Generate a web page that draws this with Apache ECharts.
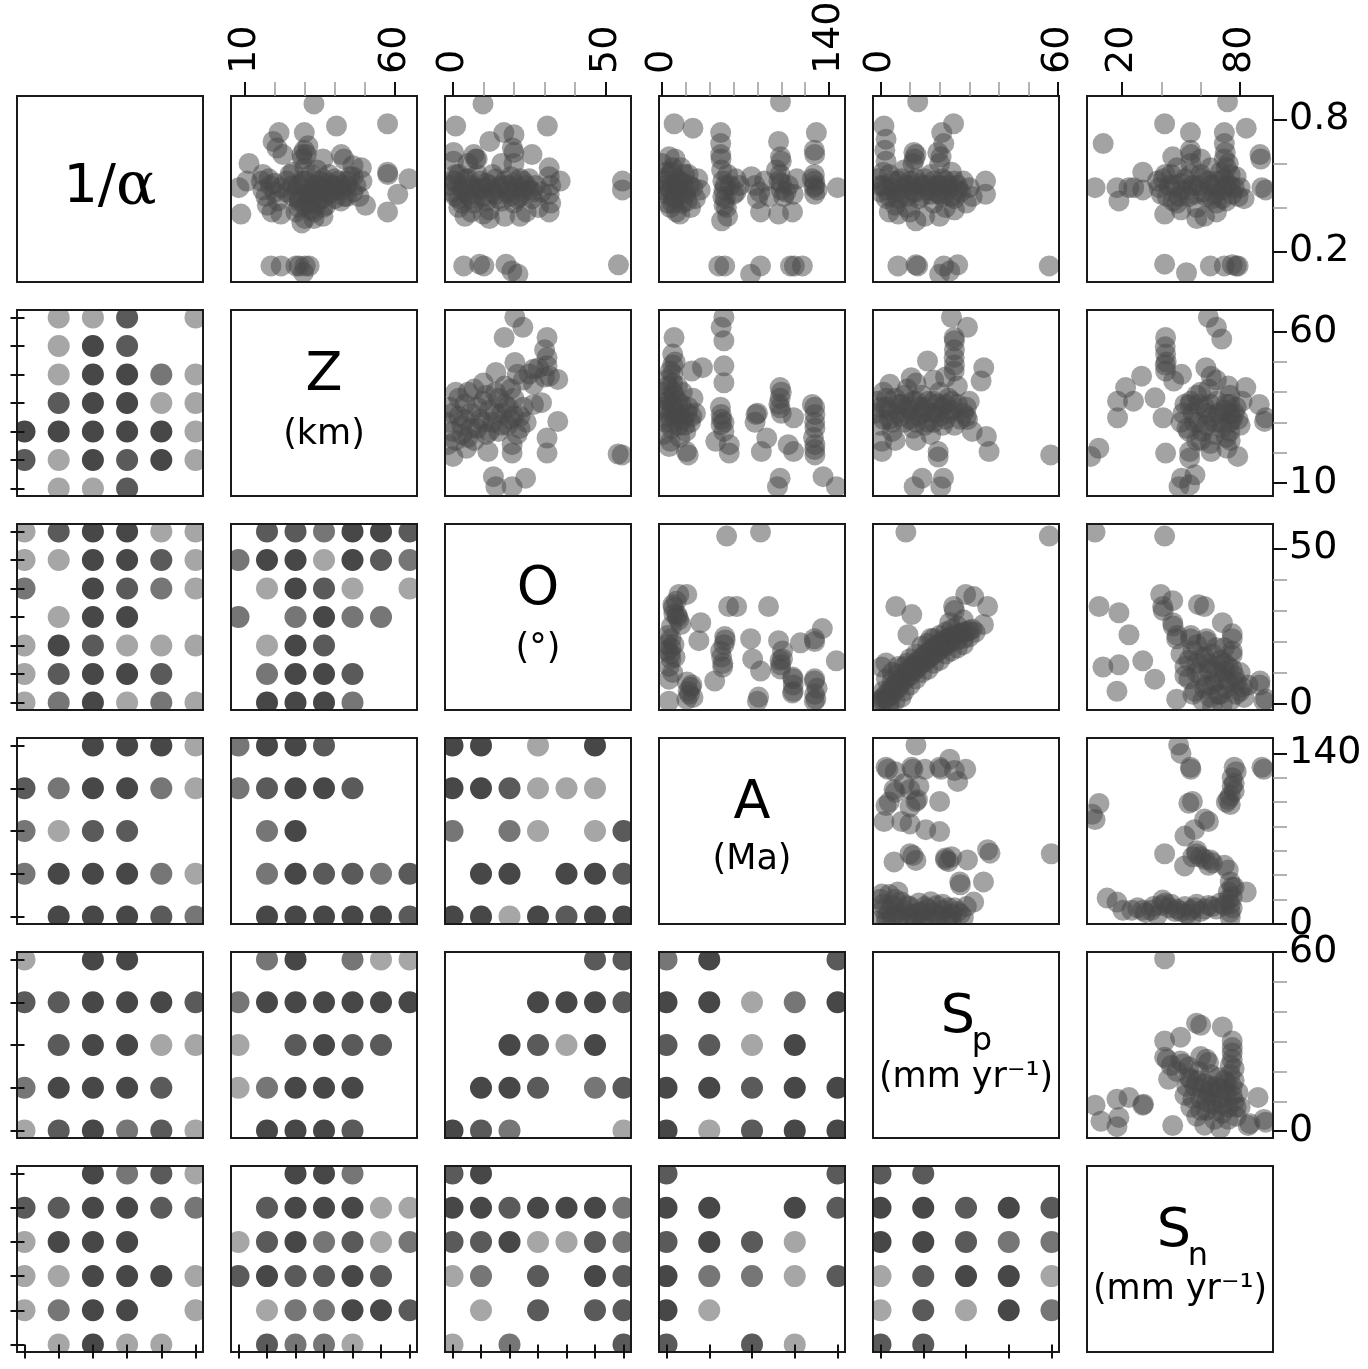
<!DOCTYPE html>
<html>
<head>
<meta charset="utf-8">
<script src="https://cdn.jsdelivr.net/npm/echarts@6/dist/echarts.min.js"></script>
<style>
  html, body { margin: 0; padding: 0; background: #fff; }
  #chart { width: 1368px; height: 1369px; }
</style>
</head>
<body>
<div id="chart"></div>
<script>
// matrix order: 1/alpha, Z, O, A, Sp, Sn
const varNames = ['inv', 'Z', 'O', 'A', 'Sp', 'Sn'];
const binCounts = [6, 7, 7, 5, 5, 6];

// tick values (major ones get labels)
const invMajor = [0.2, 0.8], invMinor = [0.4, 0.6];
const zMajor = [10, 60], zMinor = [20, 30, 40, 50];
const oMajor = [0, 50], oMinor = [10, 20, 30, 40];
const aMajor = [0, 140], aMinor = [20, 40, 60, 80, 100, 120];
const spMajor = [0, 60], spMinor = [10, 20, 30, 40, 50];
const snMajor = [20, 80], snMinor = [40, 60];

// upper triangle scatter data: [x, y]
const zInv = [[33,0.87],[40.5,0.77],[57.5,0.78],[21.4,0.74],[19.4,0.70],[20.7,0.67],[22.7,0.64],[29.8,0.74],[29.8,0.66],[30.5,0.64],[29.2,0.62],
  [11.4,0.60],[10.7,0.52],[8,0.49],[8.7,0.37],[57.5,0.56],[57.6,0.55],[64.6,0.53],[60.9,0.46],[57.5,0.38],[50.2,0.41],[42.1,0.64],[43,0.62],[48.8,0.58],[46,0.59],[36,0.62],
  [15.5,0.52],[16,0.48],[17,0.45],[18.5,0.5],[20,0.47],[21,0.43],[17.5,0.41],[19,0.38],[22,0.37],
  [25,0.55],[26,0.5],[27,0.47],[28,0.44],[29,0.52],[30,0.49],[31,0.46],[31,0.42],[32,0.55],[33,0.5],[33,0.38],[34,0.47],[35,0.52],[35,0.44],[36,0.49],[37,0.41],
  [38,0.55],[38,0.47],[39,0.5],[40,0.44],[41,0.52],[42,0.48],[43,0.45],[44,0.5],[45,0.54],[46,0.47],[47,0.5],[48,0.45],[49,0.52],[27,0.38],[30,0.35],[29,0.33],[33,0.35],[36,0.36],
  [16,0.55],[18,0.53],[20,0.51],[22,0.49],[24,0.47],[26,0.45],[28,0.43],[30,0.41],[32,0.39],[34,0.42],[36,0.44],[38,0.46],[40,0.48],[42,0.5],[44,0.52],[46,0.54],
  [24,0.52],[26,0.56],[28,0.5],[30,0.52],[32,0.47],[34,0.5],[36,0.53],[38,0.51],[40,0.53],[42,0.43],[44,0.45],[28,0.4],[32,0.44],[36,0.4],[30,0.58],[34,0.57],[29,0.64],[31,0.68],
  [18.7,0.135],[22.1,0.135],[27,0.135],[28.1,0.135],[30.1,0.135],[31.4,0.135],[29.5,0.105]];
const oInv = [[9.9,0.87],[1,0.77],[30.9,0.77],[0.3,0.65],[0.3,0.61],[1,0.55],[6.9,0.64],[7.5,0.62],[12.1,0.70],[16.7,0.74],[20,0.73],[20,0.65],[19.5,0.67],[25.9,0.64],
  [31.5,0.58],[31.5,0.54],[32,0.5],[31.5,0.46],[32,0.42],[31.5,0.38],[35.1,0.52],[55.4,0.52],[55.4,0.48],[54.1,0.14],
  [-1,0.5],[0,0.47],[1,0.52],[2,0.44],[3,0.49],[4,0.53],[5,0.46],[6,0.5],[7,0.42],[8,0.55],[9,0.48],[10,0.45],[11,0.51],[12,0.39],[13,0.47],[14,0.53],[15,0.44],
  [16,0.5],[17,0.36],[18,0.47],[19,0.54],[20,0.42],[21,0.49],[22,0.45],[23,0.52],[24,0.38],[25,0.48],[26,0.44],[27,0.5],[28,0.4],[12,0.35],[2,0.4],[6,0.38],[22,0.36],[29,0.47],
  [0,0.52],[1,0.45],[2,0.55],[3,0.42],[4,0.47],[5,0.53],[6,0.44],[7,0.49],[8,0.46],[9,0.52],[10,0.49],[11,0.43],[12,0.5],[13,0.55],[14,0.46],[15,0.49],[16,0.43],
  [17,0.52],[18,0.5],[19,0.45],[20,0.51],[21,0.44],[22,0.53],[23,0.47],[24,0.5],[25,0.53],[26,0.47],[5,0.6],[8,0.62],[16,0.6],[20,0.6],[4,0.36],[10,0.37],
  [3.6,0.135],[8.8,0.143],[10.2,0.135],[17.4,0.143],[19.3,0.112],[21.3,0.097]];
const aInv = [[99.3,0.88],[10.2,0.78],[25.9,0.76],[49.2,0.74],[49.2,0.69],[49.2,0.64],[49.5,0.62],[97.7,0.70],[99.3,0.63],[100,0.61],[129.4,0.74],[127.7,0.66],[128,0.64],
  [127.7,0.55],[128,0.52],[127.5,0.49],[128,0.46],[147.1,0.49],
  [0,0.6],[2,0.52],[4,0.46],[6,0.63],[8,0.56],[9,0.5],[10,0.44],[11,0.62],[12,0.38],[13,0.53],[14,0.48],[16,0.58],[17,0.42],[18,0.51],[20,0.46],[22,0.55],[24,0.4],
  [26,0.49],[28,0.44],[30,0.53],[32,0.48],[7,0.4],[15,0.37],[3,0.56],
  [1,0.48],[3,0.5],[5,0.54],[7,0.48],[9,0.58],[11,0.45],[13,0.5],[15,0.52],[17,0.47],[19,0.55],[21,0.43],[23,0.5],[5,0.42],[9,0.42],
  [50,0.57],[51,0.52],[52,0.48],[53,0.44],[54,0.4],[55,0.36],[57,0.5],[60,0.46],[62,0.53],[50,0.34],[51,0.45],[53,0.5],[55,0.55],[52,0.41],[62,0.47],[65,0.5],
  [75,0.54],[78,0.5],[82,0.47],[86,0.52],[90,0.45],[80,0.44],
  [96,0.57],[98,0.52],[100,0.48],[102,0.45],[106,0.5],[110,0.46],[113,0.53],[99,0.55],[100,0.51],[104,0.47],
  [128,0.5],[126,0.53],[130,0.48],
  [82.6,0.38],[97.7,0.37],[109.4,0.38],
  [47.6,0.135],[52.6,0.135],[74.3,0.097],[82.6,0.135],[107.7,0.135],[111,0.135],[117.7,0.135]];
const spInv = [[12.6,0.88],[1.2,0.77],[1.9,0.71],[1.5,0.66],[1.9,0.61],[24.7,0.78],[20.7,0.74],[21.4,0.69],[19.4,0.65],[20.5,0.63],[11.3,0.65],[11.5,0.62],[35.5,0.52],[35.5,0.46],[57,0.135],
  [-1,0.53],[0,0.47],[1,0.5],[2,0.44],[3,0.55],[4,0.49],[5,0.41],[6,0.52],[7,0.46],[8,0.57],[9,0.5],[10,0.38],[11,0.47],[12,0.53],[13,0.44],[14,0.5],[15,0.36],
  [16,0.48],[17,0.55],[18,0.42],[19,0.5],[20,0.46],[21,0.53],[22,0.4],[23,0.48],[24,0.56],[25,0.44],[26,0.5],[27,0.47],[28,0.52],[29,0.42],[30,0.49],[31,0.45],
  [0,0.5],[1,0.56],[2,0.48],[3,0.45],[4,0.52],[5,0.47],[6,0.44],[7,0.53],[8,0.49],[9,0.45],[10,0.52],[11,0.5],[12,0.47],[13,0.51],[14,0.45],[15,0.53],[16,0.5],
  [17,0.46],[18,0.52],[19,0.47],[20,0.5],[21,0.45],[22,0.52],[23,0.5],[24,0.45],[25,0.52],[26,0.48],[11,0.6],[12,0.64],[20,0.6],[3,0.38],[9,0.4],[25,0.39],
  [12,0.34],[6,0.37],[20,0.36],
  [5.9,0.135],[12,0.14],[12.6,0.135],[21.4,0.135],[23.4,0.112],[20,0.097],[26.1,0.14]];
const snInv = [[10.5,0.69],[73.6,0.88],[41.7,0.78],[54.8,0.74],[72,0.74],[83.1,0.76],[54.8,0.66],[55,0.64],[45.8,0.63],[72,0.69],[72.5,0.65],[90.1,0.64],[90.5,0.62],
  [6.4,0.49],[17.5,0.49],[18.5,0.43],[23.6,0.49],[30.6,0.56],[30.6,0.48],[26,0.49],
  [38,0.52],[40,0.46],[42,0.55],[44,0.5],[46,0.43],[48,0.58],[50,0.48],[52,0.53],[54,0.45],[56,0.5],[58,0.4],[60,0.55],[61,0.47],[62,0.36],[64,0.52],[66,0.44],
  [67,0.5],[68,0.38],[70,0.56],[71,0.48],[72,0.53],[73,0.43],[74,0.6],[75,0.5],[76,0.46],[78,0.54],[80,0.49],[82,0.44],[58,0.35],[48,0.42],[65,0.58],
  [39,0.49],[41,0.53],[43,0.45],[45,0.55],[47,0.5],[49,0.45],[51,0.51],[53,0.48],[55,0.55],[57,0.46],[59,0.5],[61,0.53],[63,0.45],[65,0.5],[67,0.46],
  [69,0.52],[71,0.44],[73,0.5],[75,0.55],[77,0.49],[79,0.45],[55,0.6],[60,0.62],[72,0.62],[73,0.58],[50,0.39],[68,0.42],
  [91.1,0.49],[93,0.48],[41.7,0.37],
  [41.7,0.143],[52.8,0.104],[64.9,0.135],[72,0.135],[76,0.14],[78,0.135],[79,0.135]];
const oZ = [[20.3,64.8],[22.9,61.5],[16.8,58.1],[30.8,58.1],[30.8,51.5],[30.8,48.7],[20.3,49.8],[14.1,46.5],[21.1,45.9],[26.4,47.6],[31.6,45.3],[34.3,44.2],[26.4,42.6],
  [26.4,35.9],[29,36.5],[34.3,30.3],[30.8,24.8],[30.8,19.8],[19.4,22.6],[19.4,19.8],[11.5,20.3],[4.5,21.4],[0.1,18.7],[-1.6,22.6],[55.3,19.2],[54,19.5],
  [13.3,12],[14.1,8.7],[19.4,8.7],[23.8,11.5],
  [-2,30],[-1,35],[0,27],[1,40],[2,32],[3,29],[4,36],[5,25],[6,33],[7,41],[8,28],[9,31],[10,37],[11,26],[12,34],[13,30],[14,40],[15,27],[16,33],[17,36],
  [18,29],[19,31],[20,38],[21,26],[22,32],[23,35],[10,43],[5,40],[17,42],[1,24],[24,30],
  [0,33],[2,38],[4,31],[6,28],[8,35],[10,30],[12,27],[14,33],[16,29],[18,35],[20,32],[22,28],[3,26],[7,24],[11,39],[15,38],[19,41],[23,44],[25,46],[28,48],[30,54],[30,45]];
const aZ = [[10.1,58.1],[51.9,64.8],[49.6,61.5],[51.9,57],[51.9,48.7],[51.9,43.1],
  [9,52.6],[9,49],[9,46],[9,43],[9.5,40],[9,36],[25,47],[33.9,48.1],
  [7,23.7],[20.5,20.3],[22,19.2],[49.6,32.6],[49.6,29.2],[50,31],[56.4,22.6],[56.4,19.8],[78.8,32.6],[80,33],[99,41.5],[100,40],[99,34.8],[98,36],
  [110.3,31.5],[126,35.9],[128.2,32.6],[128.2,28.1],[128,30],[128.2,22.6],[128.2,19.2],[128,21],
  [83.3,20.3],[87.8,24.8],[105.8,22.6],[110.3,20.3],[99,11.5],[96.8,8.7],[135,12],[146.2,8.7],[45.1,23.7],[51.9,27],
  [0,40],[2,34],[3,30],[4,44],[5,37],[6,32],[8,28],[10,39],[12,33],[13,42],[14,29],[16,36],[18,31],[20,27],[22,35],[24,30],[26,38],[28,33],[1,26],[15,25],[6,22],
  [1,35],[3,38],[5,42],[7,30],[9,34],[11,31],[13,37],[15,33],[17,40],[19,29],[21,33],[25,32],[7,47],[11,50],[49,35],[52,30],[78,30],[99,38],[127,25],[128,35],[100,33]];
const spZ = [[24,64.8],[29.4,61.5],[24.9,58.1],[25,57],[24.9,51.5],[24.9,47],[25,49],[15.9,50.3],[34.9,48.1],[34,43.7],[10.4,44.8],[3.2,42.6],[29.4,30.9],[29,32],
  [19.5,20.3],[19.5,18.5],[35.8,25.3],[36.7,20.3],[57.5,19.2],[0.5,23.7],[0.5,20.3],[14.1,11.5],[11.4,8.7],[21.3,11.5],[20.4,8.7],
  [-2,33],[-1,37],[0,29],[1,40],[2,35],[3,31],[4,27],[5,38],[6,33],[7,36],[8,30],[9,41],[10,34],[11,28],[12,37],[13,32],[14,39],[15,35],[16,30],[17,26],
  [18,37],[19,33],[20,40],[21,35],[22,31],[23,38],[24,34],[25,29],[26,36],[28,33],[30,37],[31,27],[5,24],[12,24],[26,42],
  [0,35],[1,31],[2,38],[3,34],[4,30],[6,36],[7,32],[8,39],[9,35],[10,31],[11,37],[12,30],[13,35],[14,33],[15,29],[16,37],[17,33],[18,30],[19,36],[20,32],
  [21,29],[22,36],[23,33],[24,37],[27,31],[29,35],[12,43],[18,44],[22,45],[25,54]];
const snZ = [[63.9,64.8],[68,61.5],[70.7,57.6],[42.2,58.1],[42.2,52.6],[42.5,50],[42.2,47],[46.3,43.7],[30,45.3],[21.9,41.5],[17.8,37],[17.8,31.5],[25.9,37],
  [36.8,38.1],[40.9,31.5],[50.3,45.9],[62.6,48.1],[65.3,45.3],
  [54.4,35.9],[82.9,41.5],[89.7,35.9],[92.4,30.3],[93,31.5],[8.3,21.4],[4.2,18.7],[42.2,19.8],[54.4,20.3],[54.4,18.2],[65.3,20.3],[73.4,21.4],[78.8,18.7],
  [50.3,11.5],[57.1,12.6],[49,8.7],[54.4,9.3],
  [50,30],[52,36],[54,27],[56,33],[58,39],[59,30],[60,24],[62,35],[63,29],[64,41],[66,32],[67,26],[68,37],[70,30],[72,34],[73,25],[74,42],
  [74.8,39],[74.8,36],[74.8,33],[74.8,30],[74.8,27],[76,31],[78,35],[80,29],[81,37],[58,24],[65,23],
  [51,33],[53,28],[55,37],[57,30],[59,36],[61,27],[63,33],[65,36],[67,30],[69,33],[71,28],[73,36],[75,24],[77,33],[79,31],[60,40],[68,44],[42,55],[42,49]];
const aO = [[54.2,54],[82.6,55.3],[14.2,35.2],[20.8,35.2],[9.2,31.9],[9.5,31],[12.5,28.7],[13,28],[15.8,25.5],[32.5,26.1],[30.9,20.3],
  [7.5,20.9],[7.5,18],[7,16],[7.5,14.4],[4,17],[10,19],
  [5,22],[8,25],[10,29],[12,33],[6,12],[9,10],[4,19],[11,15],[14,27],
  [52.6,21.6],[53,20.5],[49.2,17],[50.9,11.8],[51,13],[44.2,7.3],[50,15],[52,19],[55.9,31.3],[62.6,31.3],[89.3,31.3],[74.3,20.9],[76,14.4],[82.6,10.5],
  [97.7,20.3],[101,14.4],[99.3,11.2],[99.5,12.5],[99,14],[101,17],[116,19.6],[127.7,20.9],[128,20],[134.4,24.2],[146.1,13.8],[109.4,8.6],[110,8],[109.4,3.4],[110,4],[110,6],
  [127.7,7.3],[128,8],[127.7,0.8],[129,1.5],[128,3],[130,5],[24.2,5.3],[22,4],[20.8,1.4],[26,2],[23,3],[25,6],[21,7],[5.8,7.9],[5.8,0.8],[81,2.1],[80,0.8]];
const spO = [[8.6,55.3],[57,54],[5.2,31.3],[10.6,28.7],[24.7,31.3],[25,30],[28.8,35.2],[31.5,34.5],[36.2,31.3],[34.8,25.5],[23.4,26.1],[9.3,22.2],[20.7,18.3],
  [-1,0.2],[0,1.2],[1,2],[2,3.2],[3,4],[4,5.5],[5,6.2],[6,7.4],[7,8],[8,9.4],[9,10.5],[10,11.2],[11,12.3],[12,13],[13,14.1],[14,14.8],[15,15.9],[16,16.4],
  [17,17.2],[18,18.1],[19,18.9],[20,19.4],[21,20.2],[22,20.6],[23,21.1],[24,21.5],[25,21.9],[26,22.3],[27,22.6],[28,22.9],[29,23.2],[30,23.6],[31,24],
  [1,1],[2,1.5],[3,2.5],[4,3],[5,4.5],[6,5],[7,6.5],[8,7.5],[9,8.5],[10,9],[11,10.5],[12,11],[13,12],[14,13],[15,13.5],[16,14.5],[17,15],[18,16],
  [19,16.5],[20,17.5],[21,18],[22,18.8],[23,19.5],[24,20],[26,20.5],[28,21],[30,21.5],[32,23],[24,24],[22,23],[20,22],[18,21],[16,19.5],[12,16],[10,14.5],[8,12],[6,9.5],[4,7.5],
  [5,1],[8,4],[10,6],[12,8],[14,10],[16,11],[18,13],[20,14],[22,16],[24,17],[26,18],[28,19],[3,-1],[7,2],
  [0.5,11.8],[1.9,13.1],[2,8],[4,10],[6,12],[3,0.5],[1,4],[9,13],[14,18.5],[17,21],[26,25],[28,27]];
const snO = [[6.4,55.3],[41.7,54],[8.4,31.3],[18.5,29.3],[23.6,22.2],[30.6,13.8],[10.4,11.8],[18.5,12.5],[17.5,4],[36.7,7.9],[39.7,35.2],[45.8,33.2],[40.7,31.3],[41,30],
  [45.8,26.1],[46,25],[47.8,20.9],[48,22],[58.9,31.9],[61.9,31.3],[54.8,20.9],[55,22],[62.9,20.9],[71,26.1],[76,20.9],[76,22.5],[76,15.7],[76,17],[72,10.5],
  [81.1,5.3],[90.1,7.3],[90,6],[92.1,0.8],[93,1.5],[47.8,1.4],
  [50,16],[52,12],[54,8],[56,17],[57,4],[58,13],[60,9],[61,1],[62,15],[63,6],[64,11],[65,2],[66,16],[67,7],[68,12],[69,3],[70,14],[71,0],[72,8],[73,5],
  [74,12],[75,1],[77,9],[78,3],[80,10],[82,2],[84,6],[66,-1],
  [52,9],[54,14],[56,3],[58,10],[60,15],[62,5],[64,13],[66,6],[68,10],[70,3],[72,13],[74,7],[76,11],[78,7],[80,4],[68,18],[72,18],[63,20],[58,19]];
const spA = [[12,146.9],[1.9,128.6],[2.5,127],[10.6,128.6],[11,127],[20,128.6],[20.5,127],[28.8,127],[23.4,135.3],[26.1,117],[4.6,110.4],[5,108],[1.9,97.2],[1.2,84],
  [12,100.5],[12.5,102],[10,110.4],[3,100],[7.2,84],[10,82],[15.3,77.3],[20,100.5],[20,75.7],[4.6,50.8],[10,57.5],[11,56],[12,52],[22,52.4],[23,51],[29.4,52.4],
  [36.2,60.8],[37,58],[26.8,34.3],[27,32],[34.8,34.3],[57.7,57.5],
  [5,125],[15,127],[25,126],[8,115],[13,113],[10,96],[22,54],[24,55],
  [0,20],[1,12],[2,6],[3,24],[4,15],[5,9],[6,3],[7,18],[8,11],[9,5],[10,14],[11,8],[12,2],[13,17],[14,10],[15,6],[16,12],[17,4],[18,9],[19,15],[20,7],
  [21,11],[22,3],[23,13],[24,8],[26,10],[28,5],[31.5,17.7],[0.5,24.3],[5.9,26],[-1,2],[2,1],
  [1,16],[3,10],[5,20],[7,8],[9,15],[11,4],[13,9],[15,14],[17,18],[19,5],[21,16],[23,5],[25,13],[27,8],[29,14],[4,5],[14,2],[24,3]];
const snA = [[48.8,146.9],[50,140],[54.8,128.6],[55,127],[77,128.6],[91.1,128.6],[92,127],[77,115.4],[76,113],[74,102.1],[75,105],[77,109],[8.4,98.8],[6.4,85.6],[5,90],
  [55.8,100.5],[54,99],[63.9,84],[62,86],[56.8,77.3],[52,72],[41.7,57.5],[57.9,57.5],[58,60],[60,55],[64.9,52.4],[66,50],[51.8,47.5],[74,44.2],[72,48],
  [75,34.3],[76,30],[83.1,26],[74,26],[64,48],[62,53],[56,55],[76,120],[78,125],[75,98],[73,100],
  [17.5,17.7],[20.5,11],[25,11],[30.6,11],[35,11],[40.7,19.4],[42,17],[44,13],[48,12],[50,10],[52,14],[55,11],[58,16],[62,12],[66,14],[70,17],
  [75,9.4],[75,5],[76,13],[12.5,21],[38,7],[55,4],
  [28,13],[32,9],[36,14],[40,15],[45,16],[47,10],[53,8],[57,13],[60,10],[64,15],[68,12],[72,15],[74,20],[75,16],[76,22],[77,30]];
const snSp = [[41.7,57.8],[57.9,36.2],[60,35.5],[71,34.9],[41.7,30.2],[49.8,31.5],[41.7,24.8],[43,24],[49.8,23.5],[51,22.5],[54,21.5],[62.9,24.1],[64,23],
  [76,30.2],[76,28],[76,26.2],[76,24],[77,21],[43.7,17.4],[55,17.4],[45,22],[48,20],[60,25],
  [52,12],[54,18],[55,8],[57,15],[58,5],[59,20],[60,11],[62,16],[63,7],[64,13],[65,19],[66,9],[67,4],[68,15],[70,11],[71,6],[72,17],[73,13],[74,8],
  [75,19],[76,15],[77,10],[78,5],[79,13],[80,8],[62,2],[70,1],
  [53,15],[56,11],[58,17],[60,7],[61,14],[63,10],[65,15],[66,12],[68,7],[69,18],[70,14],[71,9],[73,16],[74,4],[76,12],[77,17],[78,8],[75,22],
  [89.1,11.3],[6.4,8.7],[17.5,10.7],[23.6,11.3],[30.6,8.7],[31,9],[9.4,3.3],[18.5,4.6],[17.5,1.5],[45.8,1.9],[84.1,1.9],[85,2.5],[92.1,3.9],[93,3]];

// lower triangle: shade level per bin (0 none .. 4 darkest), top row first
const binZInv = ['011301','014300','014421','034411','444441','314341','011300'];
const binOInv = ['134411','114431','204321','014400','143111','134430','124121'];
const binOZ = ['0332443','2441432','0143101','2024220','0143000','0244300','0444200'];
const binAInv = ['004441','324421','213300','244421','044432'];
const binAZ = ['2443000','2344300','0240000','0243323','0444443'];
const binAO = ['4401040','4431110','2021013','0440443','4414344'];
const binSpInv = ['104400','334443','034411','244430','134231'];
const binSpZ = ['0240211','2444444','1034330','1244400','0444300'];
const binSpO = ['0000033','0004443','0043140','0443023','4320001'];
const binSpA = ['24003','44124','33140','44344','41344'];
const binSnInv = ['004231','334432','144400','114441','124401','014110'];
const binSnZ = ['0044200','0344411','1342312','3433430','0122443','0322100'];
const binSnO = ['3400000','4434442','3341132','1203043','0103033','1020003'];
const binSnA = ['30003','44043','34310','42213','41000','30310'];
const binSnSp = ['33000','44343','44322','13441','13142','33000'];

const scatterSets = {
  '0-1': zInv, '0-2': oInv, '0-3': aInv, '0-4': spInv, '0-5': snInv,
  '1-2': oZ, '1-3': aZ, '1-4': spZ, '1-5': snZ,
  '2-3': aO, '2-4': spO, '2-5': snO,
  '3-4': spA, '3-5': snA,
  '4-5': snSp
};
const binSets = {
  '1-0': binZInv, '2-0': binOInv, '2-1': binOZ,
  '3-0': binAInv, '3-1': binAZ, '3-2': binAO,
  '4-0': binSpInv, '4-1': binSpZ, '4-2': binSpO, '4-3': binSpA,
  '5-0': binSnInv, '5-1': binSnZ, '5-2': binSnO, '5-3': binSnA, '5-4': binSnSp
};
const ticks = {
  inv: [invMajor, invMinor], Z: [zMajor, zMinor], O: [oMajor, oMinor],
  A: [aMajor, aMinor], Sp: [spMajor, spMinor], Sn: [snMajor, snMinor]
};

// axis extents of the scatter panels
const rangeX = { Z: [5.4, 67.3], O: [-2.5, 58.2], A: [-2.5, 153.4], Sp: [-2.5, 60.3], Sn: [2.3, 96.7] };
const rangeY = { inv: [0.062, 0.906], Z: [5.6, 67.2], O: [-2.05, 57.9], A: [-0.3, 152.7], Sp: [-2.3, 60.05] };

const W = 1368, H = 1369;
const L0 = 17, T0 = 96, STEP = 214, SIZE = 186;
const FONT = 'DejaVu Sans';
const shade = { '1': '#a6a6a6', '2': '#767676', '3': '#5a5a5a', '4': '#474747' };

const grids = [], xAxes = [], yAxes = [], series = [], graphics = [];

function axis(gi, min, max, position, parts) {
  return Object.assign({
    type: 'value', gridIndex: gi, min: min, max: max, position: position, z: 10,
    axisLine: { show: false }, splitLine: { show: false },
    axisTick: { show: false }, axisLabel: { show: false }
  }, parts || {});
}
function minorTicks(vals) {
  return { axisTick: { show: true, length: 14, customValues: vals, lineStyle: { color: '#9a9a9a', width: 1.5 } } };
}
function majorTicks(vals, rotate, margin) {
  return {
    axisTick: { show: true, length: 14, customValues: vals, lineStyle: { color: '#111', width: 2 } },
    axisLabel: { show: true, customValues: vals, rotate: rotate, margin: margin,
      fontSize: 38, fontFamily: FONT, color: '#000' }
  };
}
function plainTicks(vals) {
  return { axisTick: { show: true, length: 14, customValues: vals, lineStyle: { color: '#111', width: 2 } } };
}
function addGrid(r, c) {
  grids.push({ left: L0 + STEP * c, top: T0 + STEP * r, width: SIZE, height: SIZE,
    containLabel: false, outerBoundsMode: 'none' });
  return grids.length - 1;
}

for (let r = 0; r < 6; r++) {
  for (let c = 0; c < 6; c++) {
    if (r === c) continue;
    const gi = addGrid(r, c);
    const xi = xAxes.length, yi = yAxes.length;
    if (c > r) {
      const xv = varNames[c], yv = varNames[r];
      const [x0, x1] = rangeX[xv], [y0, y1] = rangeY[yv];
      const onTop = r === 0, onRight = c === 5;
      xAxes.push(axis(gi, x0, x1, 'top', onTop ? minorTicks(ticks[xv][1]) : null));
      yAxes.push(axis(gi, y0, y1, 'right', onRight ? minorTicks(ticks[yv][1]) : null));
      if (onTop || onRight) {
        // second grid on the same square, carries the major ticks and labels
        const g2 = addGrid(r, c);
        xAxes.push(axis(g2, x0, x1, 'top', onTop ? majorTicks(ticks[xv][0], -90, 22) : null));
        yAxes.push(axis(g2, y0, y1, 'right', onRight ? majorTicks(ticks[yv][0], 0, 16) : null));
      }
      series.push({
        type: 'scatter', xAxisIndex: xi, yAxisIndex: yi, silent: true,
        data: scatterSets[r + '-' + c], symbolSize: 21,
        itemStyle: { color: '#474747', opacity: 0.5 }
      });
    } else {
      const nx = binCounts[c], ny = binCounts[r];
      const px = 7.5 * (nx - 1) / 171, py = 7.5 * (ny - 1) / 171;
      const idxX = Array.from({ length: nx }, (_, i) => i);
      const idxY = Array.from({ length: ny }, (_, i) => i);
      xAxes.push(axis(gi, -px, nx - 1 + px, 'bottom', r === 5 ? plainTicks(idxX) : null));
      yAxes.push(axis(gi, -py, ny - 1 + py, 'left', c === 0 ? plainTicks(idxY) : null));
      const data = [];
      binSets[r + '-' + c].forEach((row, k) => {
        for (let j = 0; j < row.length; j++) {
          const lv = row[j];
          if (lv !== '0') data.push({ value: [j, ny - 1 - k], itemStyle: { color: shade[lv] } });
        }
      });
      series.push({
        type: 'scatter', xAxisIndex: xi, yAxisIndex: yi, silent: true,
        data: data, symbolSize: 22, itemStyle: { opacity: 1 }
      });
    }
  }
}

// white strips between panels so marks get cut at the frames
graphics.push({ type: 'rect', z: 5, shape: { x: 0, y: 0, width: L0, height: H }, style: { fill: '#fff' } });
graphics.push({ type: 'rect', z: 5, shape: { x: 0, y: 0, width: W, height: T0 }, style: { fill: '#fff' } });
for (let i = 0; i < 6; i++) {
  const gx = L0 + STEP * i + SIZE, gy = T0 + STEP * i + SIZE;
  const gw = i < 5 ? STEP - SIZE : W - gx, gh = i < 5 ? STEP - SIZE : H - gy;
  graphics.push({ type: 'rect', z: 5, shape: { x: gx, y: 0, width: gw, height: H }, style: { fill: '#fff' } });
  graphics.push({ type: 'rect', z: 5, shape: { x: 0, y: gy, width: W, height: gh }, style: { fill: '#fff' } });
}
// panel frames
for (let r = 0; r < 6; r++) {
  for (let c = 0; c < 6; c++) {
    graphics.push({ type: 'rect', z: 6,
      shape: { x: L0 + STEP * c, y: T0 + STEP * r, width: SIZE, height: SIZE },
      style: { fill: 'none', stroke: '#1a1a1a', lineWidth: 2 } });
  }
}

// diagonal labels
function txt(x, y, text, size, family) {
  graphics.push({ type: 'text', z: 7, x: x, y: y,
    style: { text: text, fontSize: size, fontFamily: family || FONT, fill: '#000', align: 'center', verticalAlign: 'middle' } });
}
const cx = i => L0 + STEP * i + SIZE / 2;
const cy = i => T0 + STEP * i + SIZE / 2;
graphics.push({ type: 'text', z: 7, x: cx(0), y: cy(0) - 1,
  style: { text: '{a|1/}{b|α}', align: 'center', verticalAlign: 'middle',
    rich: { a: { fontSize: 54, fontFamily: FONT, fill: '#000' },
            b: { fontSize: 60, fontFamily: 'DejaVu Serif', fill: '#000' } } } });
txt(cx(1), cy(1) - 27, 'Z', 54);
txt(cx(1), cy(1) + 32, '(km)', 35);
txt(cx(2), cy(2) - 27, 'O', 54);
txt(cx(2), cy(2) + 32, '(°)', 35);
txt(cx(3), cy(3) - 27, 'A', 54);
txt(cx(3), cy(3) + 29, '(Ma)', 35);
txt(cx(4) - 8, cy(4) - 27, 'S', 54);
txt(cx(4) + 16, cy(4) - 3, 'p', 32);
txt(cx(4), cy(4) + 33, '(mm yr⁻¹)', 35);
txt(cx(5) - 6, cy(5) - 27, 'S', 54);
txt(cx(5) + 18, cy(5) - 2, 'n', 32);
txt(cx(5), cy(5) + 31, '(mm yr⁻¹)', 35);

const chart = echarts.init(document.getElementById('chart'));
chart.setOption({
  animation: false,
  backgroundColor: '#fff',
  grid: grids,
  xAxis: xAxes,
  yAxis: yAxes,
  series: series,
  graphic: { elements: graphics }
});
</script>
</body>
</html>
